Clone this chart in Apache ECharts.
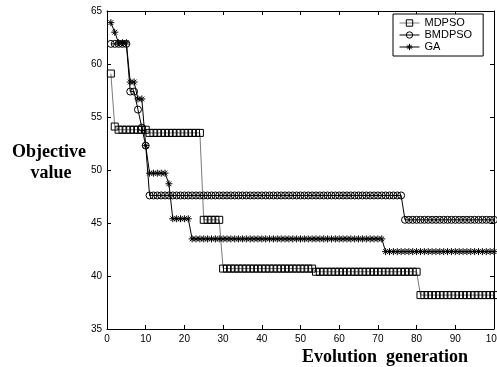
<!DOCTYPE html>
<html>
<head>
<meta charset="utf-8">
<script src="https://cdn.jsdelivr.net/npm/echarts@6/dist/echarts.min.js"></script>
<style>
html,body{margin:0;padding:0;background:#fff;}
#chart{width:497px;height:367px;}
</style>
</head>
<body>
<div id="chart"></div>
<script>
// Generations 1..100
var generations = [];
for (var g = 1; g <= 100; g++) generations.push(g);

var xTicks = [0, 10, 20, 30, 40, 50, 60, 70, 80, 90, 100];
var yTicks = [35, 40, 45, 50, 55, 60, 65];

var seriesNames = ['MDPSO', 'BMDPSO', 'GA'];

var mdpso = [
  59.1, 54.1, 53.8, 53.8, 53.8, 53.8, 53.8, 53.8, 53.8, 53.8,
  53.5, 53.5, 53.5, 53.5, 53.5, 53.5, 53.5, 53.5, 53.5, 53.5,
  53.5, 53.5, 53.5, 53.5, 45.3, 45.3, 45.3, 45.3, 45.3, 40.7,
  40.7, 40.7, 40.7, 40.7, 40.7, 40.7, 40.7, 40.7, 40.7, 40.7,
  40.7, 40.7, 40.7, 40.7, 40.7, 40.7, 40.7, 40.7, 40.7, 40.7,
  40.7, 40.7, 40.7, 40.4, 40.4, 40.4, 40.4, 40.4, 40.4, 40.4,
  40.4, 40.4, 40.4, 40.4, 40.4, 40.4, 40.4, 40.4, 40.4, 40.4,
  40.4, 40.4, 40.4, 40.4, 40.4, 40.4, 40.4, 40.4, 40.4, 40.4,
  38.2, 38.2, 38.2, 38.2, 38.2, 38.2, 38.2, 38.2, 38.2, 38.2,
  38.2, 38.2, 38.2, 38.2, 38.2, 38.2, 38.2, 38.2, 38.2, 38.2
];

var bmdpso = [
  61.9, 61.9, 61.9, 61.9, 61.9, 57.4, 57.4, 55.7, 54.0, 52.3,
  47.6, 47.6, 47.6, 47.6, 47.6, 47.6, 47.6, 47.6, 47.6, 47.6,
  47.6, 47.6, 47.6, 47.6, 47.6, 47.6, 47.6, 47.6, 47.6, 47.6,
  47.6, 47.6, 47.6, 47.6, 47.6, 47.6, 47.6, 47.6, 47.6, 47.6,
  47.6, 47.6, 47.6, 47.6, 47.6, 47.6, 47.6, 47.6, 47.6, 47.6,
  47.6, 47.6, 47.6, 47.6, 47.6, 47.6, 47.6, 47.6, 47.6, 47.6,
  47.6, 47.6, 47.6, 47.6, 47.6, 47.6, 47.6, 47.6, 47.6, 47.6,
  47.6, 47.6, 47.6, 47.6, 47.6, 47.6, 45.3, 45.3, 45.3, 45.3,
  45.3, 45.3, 45.3, 45.3, 45.3, 45.3, 45.3, 45.3, 45.3, 45.3,
  45.3, 45.3, 45.3, 45.3, 45.3, 45.3, 45.3, 45.3, 45.3, 45.3
];

var ga = [
  63.9, 63.0, 62.0, 62.0, 62.0, 58.3, 58.3, 56.7, 56.7, 52.3,
  49.7, 49.7, 49.7, 49.7, 49.7, 48.7, 45.4, 45.4, 45.4, 45.4,
  45.4, 43.5, 43.5, 43.5, 43.5, 43.5, 43.5, 43.5, 43.5, 43.5,
  43.5, 43.5, 43.5, 43.5, 43.5, 43.5, 43.5, 43.5, 43.5, 43.5,
  43.5, 43.5, 43.5, 43.5, 43.5, 43.5, 43.5, 43.5, 43.5, 43.5,
  43.5, 43.5, 43.5, 43.5, 43.5, 43.5, 43.5, 43.5, 43.5, 43.5,
  43.5, 43.5, 43.5, 43.5, 43.5, 43.5, 43.5, 43.5, 43.5, 43.5,
  43.5, 42.3, 42.3, 42.3, 42.3, 42.3, 42.3, 42.3, 42.3, 42.3,
  42.3, 42.3, 42.3, 42.3, 42.3, 42.3, 42.3, 42.3, 42.3, 42.3,
  42.3, 42.3, 42.3, 42.3, 42.3, 42.3, 42.3, 42.3, 42.3, 42.3
];

function pairs(arr) {
  return arr.map(function (v, i) { return [generations[i], v]; });
}

var starPath = 'path://M5,0L5,10M0,5L10,5M1.6,1.6L8.4,8.4M1.6,8.4L8.4,1.6';

var chart = echarts.init(document.getElementById('chart'), null, {renderer: 'canvas'});

var tickFont = {fontFamily: 'Liberation Sans, Arial, sans-serif', fontSize: 10, color: '#000'};

function xAxis(pos, show) {
  return {
    type: 'value', position: pos, min: xTicks[0], max: xTicks[xTicks.length - 1], interval: 10,
    axisLine: {show: true, onZero: false, lineStyle: {color: '#000', width: 1}},
    axisTick: {show: true, inside: true, length: 4, lineStyle: {color: '#000'}},
    axisLabel: show ? Object.assign({margin: 5, hideOverlap: false}, tickFont) : {show: false},
    splitLine: {show: false}
  };
}
function yAxis(pos, show) {
  return {
    type: 'value', position: pos, min: yTicks[0], max: yTicks[yTicks.length - 1], interval: 5,
    axisLine: {show: true, onZero: false, lineStyle: {color: '#000', width: 1}},
    axisTick: {show: true, inside: true, length: 4, lineStyle: {color: '#000'}},
    axisLabel: show ? Object.assign({margin: 5}, tickFont) : {show: false},
    splitLine: {show: false}
  };
}

var option = {
  animation: false,
  backgroundColor: '#fff',
  grid: {left: 107, right: 3, top: 11, bottom: 38, containLabel: false, outerBoundsMode: 'none'},
  xAxis: [xAxis('bottom', true), xAxis('top', false)],
  yAxis: [yAxis('left', true), yAxis('right', false)],
  legend: {
    orient: 'vertical', left: 393, top: 14,
    data: seriesNames,
    itemWidth: 20, itemHeight: 8, itemGap: 0,
    padding: [3, 11, 3, 6],
    borderColor: '#000', borderWidth: 1, backgroundColor: '#fff',
    itemStyle: {color: 'rgba(0,0,0,0)', borderColor: '#000', borderWidth: 1},
    lineStyle: {width: 1},
    textStyle: {fontFamily: 'Liberation Sans, Arial, sans-serif', fontSize: 11, lineHeight: 12, color: '#000'}
  },
  series: [
    {
      name: seriesNames[0], type: 'line', data: pairs(mdpso),
      symbol: 'rect', symbolSize: 7, showAllSymbol: true,
      lineStyle: {color: '#7a7a7a', width: 1},
      itemStyle: {color: 'rgba(0,0,0,0)', borderColor: '#000', borderWidth: 1},
      z: 3
    },
    {
      name: seriesNames[1], type: 'line', data: pairs(bmdpso),
      symbol: 'circle', symbolSize: 7, showAllSymbol: true,
      lineStyle: {color: '#000', width: 1},
      itemStyle: {color: 'rgba(0,0,0,0)', borderColor: '#000', borderWidth: 1},
      z: 3
    },
    {
      name: seriesNames[2], type: 'line', data: pairs(ga),
      symbol: starPath, symbolSize: 7, showAllSymbol: true,
      lineStyle: {color: '#000', width: 1},
      itemStyle: {color: 'rgba(0,0,0,0)', borderColor: '#000', borderWidth: 1},
      z: 3
    }
  ],
  graphic: [
    {type: 'text', x: 49, y: 152, style: {text: 'Objective', font: 'bold 18px "Liberation Serif", "Times New Roman", serif', fill: '#000', textAlign: 'center', textVerticalAlign: 'middle'}},
    {type: 'text', x: 51, y: 173, style: {text: 'value', font: 'bold 18px "Liberation Serif", "Times New Roman", serif', fill: '#000', textAlign: 'center', textVerticalAlign: 'middle'}},
    {type: 'text', x: 302, y: 357, style: {text: 'Evolution  generation', font: 'bold 18px "Liberation Serif", "Times New Roman", serif', fill: '#000', textAlign: 'left', textVerticalAlign: 'middle'}}
  ]
};

chart.setOption(option);
</script>
</body>
</html>
